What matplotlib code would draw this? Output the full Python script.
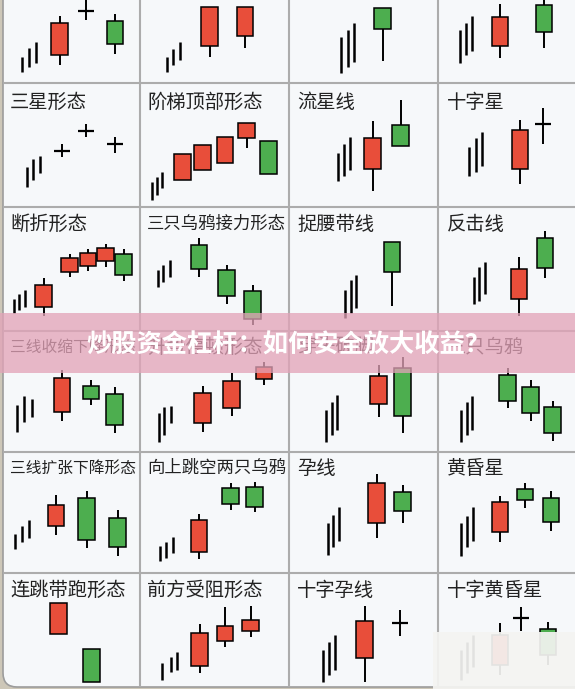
"""Candlestick pattern cheat-sheet (K线形态图) with a promo banner over it."""
import matplotlib
matplotlib.use("Agg")
import matplotlib.pyplot as plt
from matplotlib.patches import FancyBboxPatch, Rectangle

plt.rcParams["font.family"] = ["Noto Sans CJK SC", "DejaVu Sans"]

# ---- data: one entry per cell, row-major (6 rows x 4 cols) ----
TITLES = [
    "", "", "", "",
    "三星形态", "阶梯顶部形态", "流星线", "十字星",
    "断折形态", "三只乌鸦接力形态", "捉腰带线", "反击线",
    "三线收缩下降形态", "升势停顿形态", "穿头破脚", "三只乌鸦",
    "三线扩张下降形态", "向上跳空两只乌鸦", "孕线", "黄昏星",
    "连跳带跑形态", "前方受阻形态", "十字孕线", "十字黄昏星",
]

# the little "|||" uptrend sticks before each pattern
STICK_X = [
    [18, 25, 32], [27, 33, 40], [52, 59, 65], [22, 28, 34],
    [23, 29, 36], [12, 17, 22], [49, 55, 61], [31, 38, 44],
    [10, 15, 21], [18, 23, 30], [56, 62, 67], [36, 41, 47],
    [13, 20, 28], [19, 24, 31], [37, 43, 48], [23, 29, 34],
    [11, 18, 25], [20, 26, 33], [39, 44, 50], [23, 29, 35],
    [], [22, 31, 37], [34, 40, 46], [23, 29, 35],
]
STICK_LO = [
    [11, 16, 20], [11, 18, 23], [10, 16, 21], [20, 28, 32],
    [20, 27, 34], [7, 12, 19], [26, 31, 37], [31, 35, 41],
    [18, 21, 24], [44, 49, 54], [13, 18, 23], [27, 30, 37],
    [20, 30, 35], [10, 17, 29], [10, 17, 22], [10, 17, 22],
    [24, 31, 35], [12, 15, 20], [18, 26, 32], [17, 26, 32],
    [], [15, 23, 25], [13, 20, 25], [15, 22, 28],
]
STICK_HI = [
    [26, 35, 41], [26, 34, 41], [46, 53, 60], [53, 60, 67],
    [40, 48, 51], [25, 30, 35], [54, 63, 70], [60, 69, 75],
    [32, 37, 41], [61, 66, 71], [41, 51, 56], [54, 64, 69],
    [47, 56, 53], [39, 45, 46], [42, 50, 57], [42, 50, 56],
    [39, 47, 53], [27, 31, 36], [50, 58, 66], [50, 57, 66],
    [], [32, 38, 43], [45, 53, 60], [45, 53, 60],
]

# candles: time, open, close, high, low (open == close -> doji cross)
CANDLE_T = [
    [55.5, 82, 111], [69.5, 105], [93.5], [62, 106],
    [58, 82, 111], [42.5, 62.5, 85, 106.5, 128.5], [83.5, 111.5], [82, 105],
    [39.5, 65.5, 84, 101.5, 119.5], [59, 86.5, 112.5], [103], [81, 107],
    [58, 87, 110.5], [62.5, 91.5, 124], [89.5, 113.5], [69.5, 92.5, 114.5],
    [52, 82.5, 113.5], [59, 90.5, 114.5], [87.5, 113.5], [62, 87, 113],
    [54.5, 87.5], [59.5, 85, 110.5], [75.5, 111], [62, 83, 110],
]
OPEN = [
    [28, 72, 62], [37, 47], [75], [37, 78],
    [56, 76, 63], [27, 37, 44, 69, 66], [38, 82], [38, 83],
    [24, 59, 65, 70, 77], [86, 61, 40], [89], [32, 93],
    [40, 66, 58], [29, 44, 73], [48, 84], [77, 65, 45],
    [47, 75, 55], [21, 85, 86], [50, 81], [41, 84, 75],
    [61, 46], [29, 54, 64], [37, 72], [30, 77, 66],
]
CLOSE = [
    [60, 72, 39], [76, 76], [54], [66, 51],
    [56, 76, 63], [53, 62, 70, 84, 33], [69, 61], [77, 83],
    [46, 73, 78, 83, 56], [62, 35, 12], [59], [62, 63],
    [74, 53, 27], [59, 71, 85], [76, 36], [51, 39, 19],
    [68, 33, 26], [53, 69, 66], [90, 62], [71, 73, 51],
    [92, 13], [62, 69, 75], [74, 72], [60, 77, 40],
]
HIGH = [
    [67, 84, 69], [76, 76], [75], [79, 85],
    [63, 83, 70], [53, 62, 70, 84, 66], [86, 107], [87, 99],
    [53, 77, 82, 87, 82], [93, 66, 46], [89], [74, 100],
    [82, 72, 65], [66, 79, 90], [87, 95], [84, 72, 51],
    [78, 82, 63], [59, 90, 91], [99, 88], [77, 90, 82],
    [92, 46], [71, 88, 89], [89, 85], [72, 88, 73],
]
LOW = [
    [18, 63, 29], [26, 35], [22], [25, 35],
    [50, 70, 54], [27, 37, 44, 59, 33], [16, 61], [23, 63],
    [15, 54, 60, 64, 50], [54, 27, 6], [25], [15, 53],
    [31, 47, 19], [20, 36, 67], [35, 19], [44, 31, 11],
    [38, 25, 17], [14, 63, 61], [35, 50], [31, 65, 42],
    [61, 13], [22, 48, 58], [13, 59], [20, 64, 30],
]

BANNER = "炒股资金杠杆：如何安全放大收益？"

# ---- layout (pixels) ----
W, H = 575, 689
COL_EDGES = [4, 140, 289, 438, 575]
ROW_EDGES = [-41, 83, 207, 331, 452, 573, 695]
TITLE_Y = [None, 102, 224, 347, 468, 590]
TITLE_DX = [6, 7, 8, 9]

BG = "#f6f8fa"
GRID = "#acacac"
UP = "#e84e3a"
DOWN = "#4dae4f"
BODY_W = 16.5

fig = plt.figure(figsize=(W / 100, H / 100), dpi=100, facecolor="#cdc7b8")

bg = fig.add_axes([0, 0, 1, 1])
bg.set_xlim(0, W)
bg.set_ylim(H, 0)
bg.axis("off")
bg.add_patch(FancyBboxPatch((3, -60), 700, 747,
                            boxstyle="round,pad=0,rounding_size=14",
                            fc=BG, ec="#9c9c9c", lw=1.2))
bg.vlines(COL_EDGES[1:-1], -2, 687, color=GRID, lw=1.5)
bg.hlines(ROW_EDGES[1:-1], 3, W, color=GRID, lw=1.5)

for i, title in enumerate(TITLES):
    r, c = divmod(i, 4)
    x0, x1 = COL_EDGES[c], COL_EDGES[c + 1]
    y0, y1 = ROW_EDGES[r], ROW_EDGES[r + 1]

    if title:
        fs = min(13.9, (x1 - x0 - 10) / len(title) / 1.389)
        bg.text(x0 + TITLE_DX[c], TITLE_Y[r], title, fontsize=fs,
                fontweight="medium", color="#222222", ha="left", va="center")

    ax = fig.add_axes([x0 / W, 1 - y1 / H, (x1 - x0) / W, (y1 - y0) / H])
    ax.set_xlim(0, x1 - x0)
    ax.set_ylim(0, y1 - y0)
    ax.axis("off")

    if STICK_X[i]:
        ax.vlines(STICK_X[i], STICK_LO[i], STICK_HI[i], color="black",
                  lw=1.8, clip_on=False)

    for t, o, cl, hi, lo in zip(CANDLE_T[i], OPEN[i], CLOSE[i], HIGH[i], LOW[i]):
        ax.vlines(t, lo, hi, color="black", lw=1.4, zorder=1, clip_on=False)
        if o == cl:
            ax.hlines(o, t - BODY_W / 2, t + BODY_W / 2, color="black",
                      lw=1.6, zorder=2, clip_on=False)
        else:
            ax.bar(t, abs(cl - o), bottom=min(o, cl), width=BODY_W,
                   color=UP if cl > o else DOWN, edgecolor="black",
                   lw=1.1, zorder=2, clip_on=False)

# ---- overlay: banner + blurred watermark patch ----
ov = fig.add_axes([0, 0, 1, 1])
ov.set_xlim(0, W)
ov.set_ylim(H, 0)
ov.axis("off")
ov.add_patch(Rectangle((0, 313), W, 60, fc="#e3a3b8", alpha=0.76, lw=0))
ov.text(288.5, 345, BANNER, fontsize=18.2, fontweight="bold", color="white",
        ha="center", va="center")
ov.add_patch(Rectangle((433, 632), W - 433, 57, fc="#f4f4f2", alpha=0.93, lw=0))

fig.savefig("out.png", dpi=100, facecolor=fig.get_facecolor())
